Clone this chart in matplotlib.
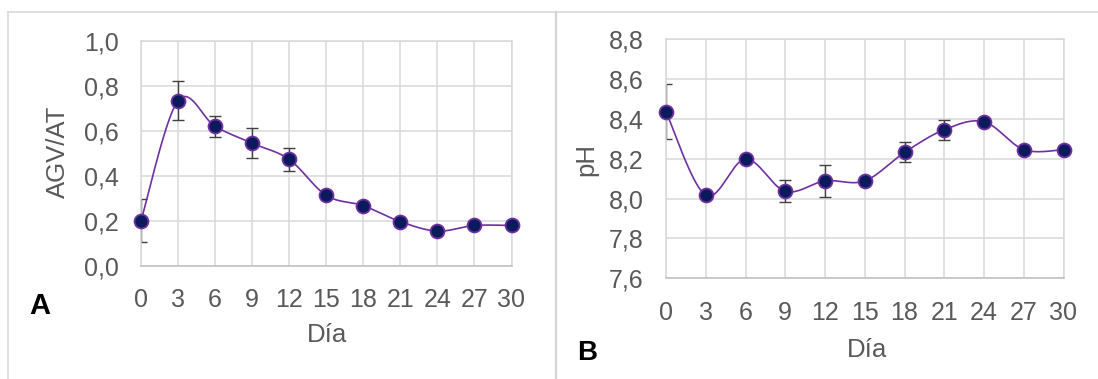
import numpy as np
import matplotlib
matplotlib.use("Agg")
import matplotlib.pyplot as plt
from matplotlib.lines import Line2D

plt.rcParams['font.family'] = ['Liberation Sans', 'DejaVu Sans']

# ---- data ----
days = [0, 3, 6, 9, 12, 15, 18, 21, 24, 27, 30]
agv_at = [0.200, 0.735, 0.620, 0.545, 0.473, 0.313, 0.267, 0.196, 0.154, 0.179, 0.179]
agv_at_err = [0.096, 0.085, 0.048, 0.067, 0.050, 0, 0, 0, 0, 0, 0]
ph = [8.436, 8.017, 8.199, 8.037, 8.089, 8.089, 8.232, 8.346, 8.386, 8.246, 8.246]
ph_err = [0.138, 0, 0, 0.056, 0.081, 0, 0.050, 0.050, 0, 0, 0]
x_ticks = days
agv_ticks = [0.0, 0.2, 0.4, 0.6, 0.8, 1.0]
ph_ticks = [7.6, 7.8, 8.0, 8.2, 8.4, 8.6, 8.8]

W, H = 1098, 379
TXT = '#595959'
GRID = '#d9d9d9'
LINE = '#7030a0'
FILL = '#0a1a5c'
ERR = '#404040'


def smooth(x, y, n=40):
    """Catmull-Rom style Bezier smoothing through every point."""
    x = np.asarray(x, float)
    y = np.asarray(y, float)
    px = np.concatenate([[x[0]], x, [x[-1]]])
    py = np.concatenate([[y[0]], y, [y[-1]]])
    xs, ys = [], []
    t = np.linspace(0, 1, n)
    for i in range(1, len(px) - 2):
        p0 = np.array([px[i - 1], py[i - 1]])
        p1 = np.array([px[i], py[i]])
        p2 = np.array([px[i + 1], py[i + 1]])
        p3 = np.array([px[i + 2], py[i + 2]])
        c1 = p1 + (p2 - p0) / 6.0
        c2 = p2 - (p3 - p1) / 6.0
        b = ((1 - t) ** 3)[:, None] * p1 + (3 * (1 - t) ** 2 * t)[:, None] * c1 \
            + (3 * (1 - t) * t ** 2)[:, None] * c2 + (t ** 3)[:, None] * p2
        xs.append(b[:, 0])
        ys.append(b[:, 1])
    return np.concatenate(xs), np.concatenate(ys)


def px_rect(l, t, r, b):
    return [l / W, 1 - b / H, (r - l) / W, (b - t) / H]


fig = plt.figure(figsize=(W / 100, H / 100), dpi=100)
fig.patch.set_facecolor('white')

# outer chart frames
frame_kw = dict(color=GRID, lw=1.2, transform=fig.transFigure)
fig.add_artist(Line2D([8 / W, 1], [1 - 12 / H, 1 - 12 / H], **frame_kw))
fig.add_artist(Line2D([8 / W, 8 / W], [0, 1 - 12 / H], **frame_kw))
fig.add_artist(Line2D([555.5 / W, 555.5 / W], [0, 1 - 12 / H], color='#d4d4d4', lw=1.6,
                      transform=fig.transFigure))


def panel(rect, y, err, yticks, ylabel, ylab_xy, xlab_xy):
    ax = fig.add_axes(rect)
    ax.set_xlim(0, 30)
    ax.set_ylim(yticks[0], yticks[-1])
    ax.set_xticks(x_ticks)
    ax.set_yticks(yticks)
    ax.set_yticklabels([f"{v:.1f}".replace('.', ',') for v in yticks])
    ax.grid(True, color=GRID, lw=1.1)
    ax.set_axisbelow(True)
    for s in ax.spines.values():
        s.set_color(GRID)
        s.set_linewidth(1.1)
    ax.spines['bottom'].set_color('#bfbfbf')
    ax.tick_params(length=0, pad=16, labelsize=18, colors=TXT)

    sx, sy = smooth(days, y)
    ax.plot(sx, sy, color=LINE, lw=1.2, zorder=3, clip_on=False)

    idx = [i for i, e in enumerate(err) if e > 0]
    eb = ax.errorbar([days[i] for i in idx], [y[i] for i in idx],
                     yerr=[err[i] for i in idx], fmt='none', ecolor=ERR,
                     elinewidth=1.0, capsize=4.3, capthick=1.0, zorder=2)
    for lc in eb[2]:
        lc.set_clip_on(False)

    ax.plot(days, y, linestyle='none', marker='o', markersize=10,
            markerfacecolor=FILL, markeredgecolor=LINE, markeredgewidth=1.3,
            zorder=4, clip_on=False)

    ax.set_ylabel(ylabel, fontsize=18.5, color=TXT)
    ax.yaxis.set_label_coords(*ylab_xy)
    ax.yaxis.label.set_va('center')
    ax.set_xlabel('Día', fontsize=18.5, color=TXT)
    ax.xaxis.set_label_coords(*xlab_xy)
    ax.xaxis.label.set_va('center')
    return ax


axA = panel(px_rect(141, 41, 511.5, 265.7), agv_at, agv_at_err, agv_ticks,
            'AGV/AT', (-0.225, 0.506), (0.501, -0.308))
axB = panel(px_rect(666, 39.3, 1063.5, 278.3), ph, ph_err, ph_ticks,
            'pH', (-0.201, 0.495), (0.506, -0.300))

fig.text(40 / W, 1 - 306 / H, 'A', fontsize=21, fontweight='bold', color='black',
         ha='center', va='center')
fig.text(587 / W, 1 - 353 / H, 'B', fontsize=20, fontweight='bold', color='black',
         ha='center', va='center')

fig.savefig('out.png', dpi=100, facecolor='white')
